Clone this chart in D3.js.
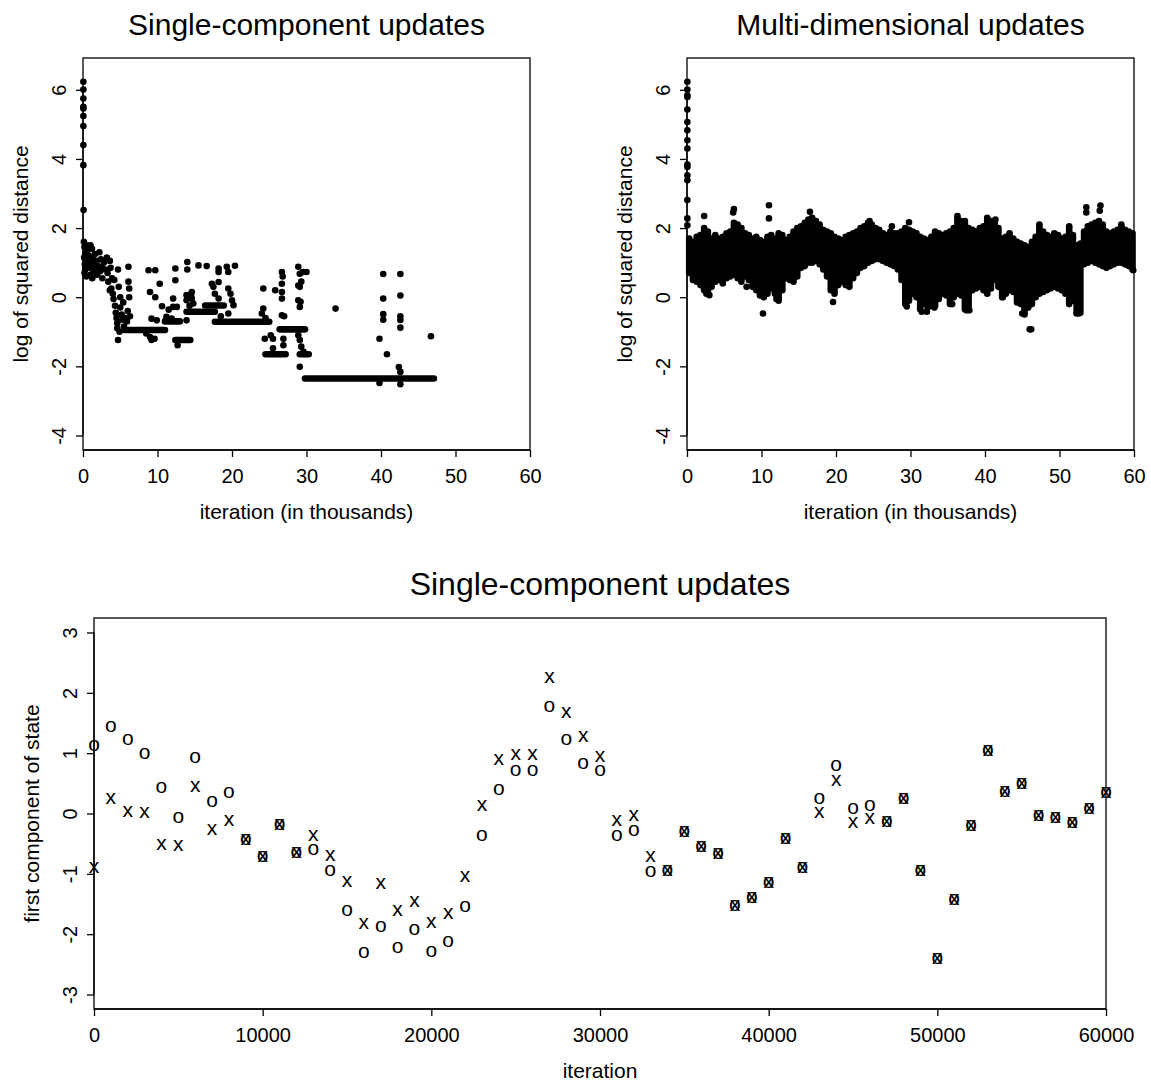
<!DOCTYPE html>
<html>
<head>
<meta charset="utf-8">
<script src="https://cdn.jsdelivr.net/npm/d3@7"></script>
<style>
  html, body { margin: 0; padding: 0; background: #fff; }
  text { font-family: "Liberation Sans", Arial, Helvetica, sans-serif; fill: #000; }
</style>
</head>
<body>
<script>
// ---------------- DATA ----------------
const topXTicks = [0, 10, 20, 30, 40, 50, 60];
const topYTicks = [-4, -2, 0, 2, 4, 6];
const bottomXTicks = [0, 10000, 20000, 30000, 40000, 50000, 60000];
const bottomYTicks = [-3, -2, -1, 0, 1, 2, 3];

// Top-left: single-component updates, log of squared distance (x in thousands)
const singlePoints = [
  [0.05,6.23],[0.05,6.01],[0.05,5.75],[0.05,5.51],[0.05,5.46],[0.05,5.24],[0.05,4.95],[0.05,4.40],[0.05,3.82],[0.08,2.52],[0.12,1.60],
  [0.2,1.45],[0.3,1.25],[0.4,1.05],[0.5,0.9],[0.3,0.8],[0.6,1.35],[0.8,1.2],[0.9,1.0],[0.7,0.85],[1.0,0.65],[1.2,1.4],[1.3,1.1],
  [1.5,0.95],[1.4,0.75],[1.6,1.25],[1.8,1.05],[2.0,0.9],[1.9,0.65],[2.2,1.3],[2.4,1.1],[2.5,0.85],[2.6,0.55],[2.8,1.0],[3.0,0.8],
  [3.2,1.15],[3.3,0.7],[3.4,0.45],[3.6,1.05],[3.7,0.85],[3.9,0.55],[3.8,0.25],[0.15,1.15],[0.25,0.95],[0.6,1.0],[1.1,0.9],[1.7,0.85],
  [2.3,0.75],[0.5,1.5],[1.0,1.5],[0.2,0.7],[0.45,0.6],[1.25,0.55],
  [4.0,0.1],[4.1,-0.05],[4.3,-0.25],[4.4,-0.45],[4.5,-0.6],[4.6,-0.75],[4.6,-0.9],[4.7,-1.24],[4.8,0.3],[5.0,0.0],[5.0,-0.3],
  [5.2,-0.5],[5.3,-0.65],[5.4,-0.15],[5.5,-0.85],[5.7,-0.6],[5.9,-0.7],[6.0,-0.4],[4.7,0.8],[6.1,0.88],[6.1,0.45],[6.2,0.25],
  [6.2,0.0],[6.3,-0.55],[4.2,0.5],[3.6,0.2],[4.9,-1.0],[5.6,-0.95],
  [8.8,0.78],[9.7,0.78],[10.3,0.39],[9.0,0.15],[9.7,0.0],[10.6,-0.26],[9.2,-0.62],[9.9,-0.67],[11.2,-0.57],[11.9,-0.62],[11.5,-0.36],
  [12.1,-0.28],[12.6,-0.28],[12.1,-0.04],[12.4,0.49],[12.4,0.83],[9.0,-1.15],[9.2,-1.24],[9.6,-1.2],[12.7,-1.39],[8.5,-1.05],
  [14.0,1.02],[14.0,0.80],[15.5,0.92],[16.6,0.90],[18.2,0.83],[18.2,0.73],[19.3,0.88],[19.5,0.73],[20.4,0.91],[13.9,-0.67],
  [14.6,0.15],[14.6,-0.04],[14.8,-0.18],[13.9,0.06],[13.9,-0.09],[17.3,0.39],[17.5,0.30],[17.7,0.10],[18.2,0.44],[18.2,-0.04],
  [19.5,0.25],[19.8,0.10],[20.0,-0.09],[20.2,-0.23],[19.5,-0.47],[18.5,-0.55],[14.3,-0.25],[14.5,0.05],
  [24.2,0.25],[24.2,-0.33],[24.0,-0.47],[25.8,0.2],[26.7,0.73],[26.7,0.39],[26.7,0.15],[26.7,-0.04],[26.7,-0.52],[24.4,-1.2],
  [25.2,-1.1],[25.5,-1.2],[26.9,-1.2],[26.9,-1.39],[25.5,-1.48],[28.9,0.88],[29.1,0.68],[29.5,0.73],[30.0,0.73],[28.9,0.34],
  [29.1,0.30],[28.9,-0.09],[29.1,-0.28],[28.9,-1.1],[29.1,-1.24],[29.3,-1.43],[29.6,-1.58],[29.1,-2.01],[26.8,0.6],[29.3,0.45],
  [29.2,-0.13],[27.0,-0.55],[24.5,-0.6],
  [33.9,-0.33],[40.3,0.67],[42.6,0.67],[40.3,-0.04],[42.6,0.05],[40.3,-0.49],[40.3,-0.65],[42.6,-0.55],[42.6,-0.66],[42.6,-0.88],
  [39.8,-1.2],[46.7,-1.13],[40.8,-1.65],[42.4,-2.02],[42.6,-2.16],[39.8,-2.48],[42.6,-2.52]
];
// Stretches where the single-component chain stayed put: [from, to, value]
const singleRuns = [
  [5.9,11.0,-0.95],[11.0,13.0,-0.70],[12.4,14.4,-1.24],[13.9,17.7,-0.42],[16.4,18.9,-0.24],
  [17.7,25.0,-0.71],[24.5,27.2,-1.65],[26.4,29.8,-0.93],[29.1,30.3,-1.65],[29.8,47.1,-2.35]
];

// Top-right: multi-dimensional updates. Dense cloud: per-bin [x, low, high] plus isolated points
const multiBand = [
  [0.3,0.7,1.7],[0.8,0.5,1.6],[1.3,0.45,1.75],[1.8,0.35,1.8],[2.3,0.2,2.0],[2.8,0.1,1.9],[3.3,0.3,1.7],[3.8,0.45,1.8],
  [4.3,0.5,1.7],[4.8,0.4,1.75],[5.3,0.55,1.85],[5.8,0.6,1.9],[6.3,0.65,2.15],[6.8,0.55,2.1],[7.3,0.45,2.0],[7.8,0.6,1.85],
  [8.3,0.5,1.8],[8.8,0.3,1.7],[9.3,0.2,1.75],[9.8,0.05,1.65],[10.3,0.0,1.6],[10.8,0.1,1.75],[11.3,0.25,1.8],[11.8,0.1,1.7],
  [12.3,-0.1,1.85],[12.8,0.2,1.8],[13.3,0.55,1.65],[13.8,0.5,1.75],[14.3,0.45,1.9],[14.8,0.6,2.0],[15.3,0.85,2.05],[15.8,0.9,2.15],
  [16.3,1.0,2.25],[16.8,1.0,2.3],[17.3,1.05,2.2],[17.8,0.95,2.1],[18.3,0.8,1.95],[18.8,0.6,1.9],[19.3,0.2,1.85],[19.8,0.1,1.75],
  [20.3,0.35,1.7],[20.8,0.45,1.65],[21.3,0.35,1.75],[21.8,0.3,1.8],[22.3,0.55,1.85],[22.8,0.7,1.9],[23.3,0.85,2.0],[23.8,0.9,2.05],
  [24.3,1.0,2.15],[24.8,1.05,2.1],[25.3,1.1,2.0],[25.8,1.1,1.95],[26.3,1.05,1.85],[26.8,1.0,1.8],[27.3,0.95,1.9],[27.8,0.9,1.85],
  [28.3,0.8,1.85],[28.8,0.5,1.9],[29.3,-0.2,2.0],[29.8,-0.1,1.95],[30.3,0.1,1.9],[30.8,0.0,1.85],[31.3,-0.35,1.75],[31.8,-0.2,1.7],
  [32.3,-0.3,1.65],[32.8,-0.25,1.75],[33.3,-0.25,1.9],[33.8,-0.05,1.85],[34.3,0.1,1.8],[34.8,0.05,1.85],[35.3,-0.2,1.9],[35.8,0.0,2.0],
  [36.3,0.1,2.3],[36.8,0.05,2.2],[37.3,-0.35,2.2],[37.8,-0.3,2.0],[38.3,0.2,1.95],[38.8,0.25,1.9],[39.3,0.3,2.0],[39.8,0.2,2.05],
  [40.3,0.1,2.25],[40.8,0.25,2.2],[41.3,0.5,2.2],[41.8,0.3,2.0],[42.3,0.0,1.7],[42.8,0.1,1.75],[43.3,0.2,1.85],[43.8,0.15,1.7],
  [44.3,-0.15,1.6],[44.8,-0.2,1.55],[45.3,-0.45,1.5],[45.8,-0.3,1.45],[46.3,-0.2,1.6],[46.8,0.0,1.75],[47.3,0.1,2.05],[47.8,0.15,1.9],
  [48.3,0.2,1.8],[48.8,0.25,1.75],[49.3,0.3,1.85],[49.8,0.25,1.8],[50.3,0.2,1.7],[50.8,0.1,1.75],[51.3,-0.2,2.0],[51.8,-0.1,1.8],
  [52.3,-0.45,1.5],[52.8,-0.45,1.55],[53.3,0.95,1.9],[53.8,1.0,2.05],[54.3,1.05,2.1],[54.8,1.0,2.15],[55.3,0.95,2.2],[55.8,0.9,2.1],
  [56.3,0.85,1.9],[56.8,0.9,1.85],[57.3,0.95,1.9],[57.8,1.0,1.95],[58.3,1.0,2.05],[58.8,0.95,1.95],[59.3,0.9,1.9],[59.8,0.8,1.85]
];
const multiPoints = [
  [0.05,6.23],[0.05,6.01],[0.05,5.84],[0.05,5.79],[0.05,5.43],[0.05,5.07],[0.05,4.83],[0.05,4.54],[0.05,4.30],[0.05,3.84],
  [0.05,3.77],[0.05,3.53],[0.05,3.38],[0.05,2.81],[0.05,2.28],[0.05,2.08],
  [2.3,2.35],[6.3,2.55],[6.2,2.45],[11.0,2.66],[11.0,2.28],[10.2,-0.47],[16.5,2.47],[19.6,-0.14],[3.0,0.06],[2.6,0.1],[8.0,0.3],
  [12.0,-0.05],[29.5,-0.27],[31.5,-0.42],[32.2,-0.42],[33.2,-0.3],[35.6,-0.2],[37.5,-0.38],[37.9,-0.38],[42.4,0.0],[45.0,-0.47],
  [45.3,-0.5],[46.0,-0.93],[46.2,-0.93],[52.3,-0.47],[52.6,-0.47],[53.6,2.6],[53.6,2.45],[55.5,2.65],[55.4,2.5],[36.3,2.35],
  [40.3,2.3],[41.4,2.25],[47.3,2.1],[51.3,2.05],[58.3,2.1],[24.5,2.2],[29.8,2.17],[27.5,2.05],[59.9,0.78]
];

// Bottom: first component of state, every 1000 iterations
const iterations = [0,1000,2000,3000,4000,5000,6000,7000,8000,9000,10000,11000,12000,13000,14000,15000,16000,17000,18000,19000,
  20000,21000,22000,23000,24000,25000,26000,27000,28000,29000,30000,31000,32000,33000,34000,35000,36000,37000,38000,39000,
  40000,41000,42000,43000,44000,45000,46000,47000,48000,49000,50000,51000,52000,53000,54000,55000,56000,57000,58000,59000,60000];
const seriesO = [1.12,1.44,1.22,0.99,0.43,-0.07,0.93,0.20,0.35,-0.43,-0.71,-0.18,-0.65,-0.60,-0.95,-1.61,-2.30,-1.88,-2.22,-1.93,
  -2.29,-2.12,-1.54,-0.37,0.39,0.72,0.72,1.77,1.22,0.82,0.71,-0.37,-0.29,-0.97,-0.95,-0.30,-0.54,-0.66,-1.52,-1.39,
  -1.15,-0.41,-0.89,0.25,0.79,0.08,0.14,-0.13,0.25,-0.95,-2.40,-1.42,-0.20,1.04,0.37,0.49,-0.04,-0.07,-0.15,0.08,0.34];
const seriesX = [-0.89,0.25,0.04,0.02,-0.52,-0.53,0.45,-0.27,-0.12,-0.43,-0.71,-0.18,-0.65,-0.36,-0.70,-1.13,-1.82,-1.16,-1.61,-1.46,
  -1.81,-1.65,-1.04,0.13,0.89,0.97,0.98,2.25,1.68,1.28,0.94,-0.12,-0.04,-0.71,-0.95,-0.30,-0.54,-0.66,-1.52,-1.39,
  -1.15,-0.41,-0.89,0.02,0.54,-0.15,-0.09,-0.13,0.25,-0.95,-2.40,-1.42,-0.20,1.04,0.37,0.49,-0.04,-0.07,-0.15,0.08,0.34];

// ---------------- DRAWING ----------------
const W = 1151, H = 1086;
const svg = d3.select("body").append("svg").attr("width", W).attr("height", H)
  .style("background", "#fff");
svg.append("rect").attr("width", W).attr("height", H).attr("fill", "#fff");

const TICK_FS = 20, LAB_FS = 21;
const DOT_R = 3.3;
const plainNum = d => String(d);   // ASCII hyphen-minus, like the reference

function frame(g, box, x, y, xTicks, yTicks, title, titleFs, xlab, ylab) {
  g.append("rect").attr("x", box.l).attr("y", box.t)
    .attr("width", box.r - box.l).attr("height", box.b - box.t)
    .attr("fill", "none").attr("stroke", "#000").attr("stroke-width", 1.3);
  // x axis
  const xa = g.append("g").attr("transform", `translate(0,${box.b})`)
    .call(d3.axisBottom(x).tickValues(xTicks).tickSize(7).tickSizeOuter(0).tickFormat(plainNum));
  xa.select(".domain").attr("stroke-width", 1.3)
    .attr("d", `M${x(xTicks[0])},0H${x(xTicks[xTicks.length-1])}`);
  xa.selectAll(".tick line").attr("stroke-width", 1.3);
  xa.selectAll(".tick text").attr("y", 33).attr("dy", null)
    .style("font-size", TICK_FS + "px").style("font-family", '"Liberation Sans", Arial, sans-serif');
  // y axis (labels parallel to the axis)
  const ya = g.append("g").attr("transform", `translate(${box.l},0)`)
    .call(d3.axisLeft(y).tickValues(yTicks).tickSize(7).tickSizeOuter(0).tickFormat(plainNum));
  ya.select(".domain").attr("stroke-width", 1.3)
    .attr("d", `M0,${y(yTicks[0])}V${y(yTicks[yTicks.length-1])}`);
  ya.selectAll(".tick line").attr("stroke-width", 1.3);
  ya.selectAll(".tick text")
    .attr("x", null).attr("dy", null)
    .attr("text-anchor", "middle")
    .attr("transform", "translate(-17,0) rotate(-90)")
    .style("font-size", TICK_FS + "px").style("font-family", '"Liberation Sans", Arial, sans-serif');
  // titles and labels
  const cx = (box.l + box.r) / 2, cy = (box.t + box.b) / 2;
  g.append("text").attr("x", cx).attr("y", box.t - 23).attr("text-anchor", "middle")
    .style("font-size", titleFs + "px").text(title);
  g.append("text").attr("x", cx).attr("y", box.b + 69).attr("text-anchor", "middle")
    .style("font-size", LAB_FS + "px").text(xlab);
  g.append("text").attr("transform", `translate(${box.l - 55},${cy}) rotate(-90)`)
    .attr("text-anchor", "middle").style("font-size", LAB_FS + "px").text(ylab);
}

// ---- Top-left
{
  const box = { l: 83, r: 530, t: 58, b: 450 };
  const x = d3.scaleLinear().domain([0, 60]).range([box.l, box.r]);
  const y = d3.scaleLinear().domain([-4.42, 6.92]).range([box.b, box.t]);
  const g = svg.append("g");
  const marks = g.append("g");
  marks.selectAll("line.run").data(singleRuns).join("line").attr("class", "run")
    .attr("x1", d => x(d[0])).attr("x2", d => x(d[1]))
    .attr("y1", d => y(d[2])).attr("y2", d => y(d[2]))
    .attr("stroke", "#000").attr("stroke-width", DOT_R * 2).attr("stroke-linecap", "round");
  marks.selectAll("circle").data(singlePoints).join("circle")
    .attr("cx", d => x(d[0])).attr("cy", d => y(d[1])).attr("r", DOT_R).attr("fill", "#000");
  frame(g, box, x, y, topXTicks, topYTicks,
    "Single-component updates", 30, "iteration (in thousands)", "log of squared distance");
}

// ---- Top-right
{
  const box = { l: 687, r: 1134, t: 58, b: 450 };
  const x = d3.scaleLinear().domain([0, 60]).range([box.l, box.r]);
  const y = d3.scaleLinear().domain([-4.42, 6.92]).range([box.b, box.t]);
  const g = svg.append("g");
  const marks = g.append("g");
  marks.selectAll("line.band").data(multiBand).join("line").attr("class", "band")
    .attr("x1", d => x(d[0])).attr("x2", d => x(d[0]))
    .attr("y1", d => y(d[1])).attr("y2", d => y(d[2]))
    .attr("stroke", "#000").attr("stroke-width", DOT_R * 2).attr("stroke-linecap", "round");
  marks.selectAll("circle").data(multiPoints).join("circle")
    .attr("cx", d => x(d[0])).attr("cy", d => y(d[1])).attr("r", DOT_R).attr("fill", "#000");
  frame(g, box, x, y, topXTicks, topYTicks,
    "Multi-dimensional updates", 30, "iteration (in thousands)", "log of squared distance");
}

// ---- Bottom
{
  const box = { l: 94, r: 1106, t: 618, b: 1009 };
  const x = d3.scaleLinear().domain([0, 60000]).range([box.l, box.r]);
  const y = d3.scaleLinear().domain([-3.24, 3.24]).range([box.b, box.t]);
  const g = svg.append("g");
  const marks = g.append("g");
  const GLYPH_FS = 21;
  marks.selectAll("text.o").data(iterations).join("text").attr("class", "o")
    .attr("x", d => x(d)).attr("y", (d, i) => y(seriesO[i]) + GLYPH_FS * 0.26)
    .attr("text-anchor", "middle").style("font-size", GLYPH_FS + "px").text("o");
  marks.selectAll("text.x").data(iterations).join("text").attr("class", "x")
    .attr("x", d => x(d)).attr("y", (d, i) => y(seriesX[i]) + GLYPH_FS * 0.26)
    .attr("text-anchor", "middle").style("font-size", GLYPH_FS + "px").text("x");
  frame(g, box, x, y, bottomXTicks, bottomYTicks,
    "Single-component updates", 32, "iteration", "first component of state");
}
</script>
</body>
</html>
